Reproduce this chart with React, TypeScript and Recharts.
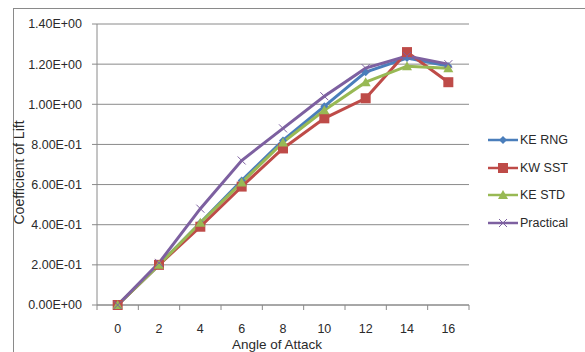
import { LineChart, Line, XAxis, YAxis, CartesianGrid, Legend } from "recharts";

const angles = [0, 2, 4, 6, 8, 10, 12, 14, 16];
const keRng = [0, 0.2, 0.41, 0.62, 0.82, 0.99, 1.16, 1.23, 1.19];
const kwSst = [0, 0.2, 0.39, 0.59, 0.78, 0.93, 1.03, 1.26, 1.11];
const keStd = [0, 0.2, 0.41, 0.61, 0.81, 0.97, 1.11, 1.19, 1.18];
const practical = [0, 0.21, 0.48, 0.72, 0.88, 1.04, 1.18, 1.24, 1.2];

const yTicks = [0, 0.2, 0.4, 0.6, 0.8, 1.0, 1.2, 1.4];
// even values get labels, odd ones are the category boundary tick marks
const xTicks = [-1, 0, 1, 2, 3, 4, 5, 6, 7, 8, 9, 10, 11, 12, 13, 14, 15, 16, 17];

const series = [
  { key: "keRng", name: "KE RNG", color: "#4a7ebb", shape: "diamond" },
  { key: "kwSst", name: "KW SST", color: "#be4b48", shape: "square" },
  { key: "keStd", name: "KE STD", color: "#98b954", shape: "triangle" },
  { key: "practical", name: "Practical", color: "#7d60a0", shape: "x" },
];

const data = angles.map((a, i) => ({
  angle: a,
  keRng: keRng[i],
  kwSst: kwSst[i],
  keStd: keStd[i],
  practical: practical[i],
}));

const FONT = "'Liberation Sans', Arial, sans-serif";
const GRID = "#8a8a8a";
const TEXT = "#2a2a2a";

function sci(v: number) {
  if (v === 0) return "0.00E+00";
  const e = Math.floor(Math.log10(Math.abs(v)) + 1e-9);
  const m = v / Math.pow(10, e);
  return m.toFixed(2) + "E" + (e < 0 ? "-" : "+") + String(Math.abs(e)).padStart(2, "0");
}

function Marker({ cx, cy, shape, color }: { cx: number; cy: number; shape: string; color: string }) {
  if (cx == null || cy == null) return null;
  if (shape === "diamond")
    return <polygon points={`${cx},${cy - 4} ${cx + 4},${cy} ${cx},${cy + 4} ${cx - 4},${cy}`} fill={color} />;
  if (shape === "square") return <rect x={cx - 5} y={cy - 5} width={10} height={10} fill={color} />;
  if (shape === "triangle")
    return <polygon points={`${cx},${cy - 5} ${cx + 5},${cy + 4} ${cx - 5},${cy + 4}`} fill={color} />;
  return (
    <g stroke={color} strokeWidth={1}>
      <line x1={cx - 4} y1={cy - 4} x2={cx + 4} y2={cy + 4} />
      <line x1={cx - 4} y1={cy + 4} x2={cx + 4} y2={cy - 4} />
    </g>
  );
}

function XTick(props: any) {
  const { x, y, payload } = props;
  const v = payload.value;
  const axisY = y - 6;
  if (v % 2 !== 0) {
    return <line x1={x} y1={axisY} x2={x} y2={axisY + 5} stroke={GRID} />;
  }
  return (
    <text x={x} y={axisY + 28} textAnchor="middle" fontSize={12.5} fontFamily={FONT} fill={TEXT}>
      {v}
    </text>
  );
}

function LegendBox() {
  return (
    <div style={{ fontFamily: FONT, fontSize: 12.5, color: TEXT }}>
      {series.map((s) => (
        <div key={s.key} style={{ display: "flex", alignItems: "center", height: 27.7 }}>
          <svg width={32} height={14}>
            <line x1={0} y1={7} x2={30} y2={7} stroke={s.color} strokeWidth={2.5} />
            <Marker cx={15} cy={7} shape={s.shape} color={s.color} />
          </svg>
          <span>{s.name}</span>
        </div>
      ))}
    </div>
  );
}

export default function App() {
  return (
    <div style={{ position: "fixed", left: 0, top: 0, width: 585, height: 352, overflow: "hidden", background: "#fff" }}>
      <div
        style={{
          position: "absolute",
          left: 13,
          top: 8,
          width: 700,
          height: 500,
          border: `1px solid ${GRID}`,
        }}
      />
      <LineChart width={585} height={352} data={data} margin={{ top: 24, right: 116, left: 13, bottom: 0 }}>
        <CartesianGrid vertical={false} stroke={GRID} strokeWidth={1} />
        <XAxis
          dataKey="angle"
          type="number"
          domain={[-1, 17]}
          ticks={xTicks}
          interval={0}
          tick={<XTick />}
          tickLine={false}
          tickSize={6}
          tickMargin={0}
          height={47}
          stroke={GRID}
          label={{ value: "Angle of Attack", position: "insideBottom", offset: 3, dx: -6, fontSize: 13.5, fontFamily: FONT, fill: TEXT }}
        />
        <YAxis
          domain={[0, 1.4]}
          ticks={yTicks}
          interval={0}
          width={84}
          tickSize={5}
          tickMargin={10}
          stroke={GRID}
          tickFormatter={sci}
          tick={{ fontSize: 12.5, fontFamily: FONT, fill: TEXT }}
          label={{ value: "Coefficient of Lift", angle: -90, position: "insideLeft", offset: 6, dy: 60, fontSize: 14, fontFamily: FONT, fill: TEXT }}
        />
        <Legend
          layout="vertical"
          align="center"
          verticalAlign="middle"
          content={<LegendBox />}
          wrapperStyle={{ left: 488, top: 126, width: 100 }}
        />
        {series.map((s) => (
          <Line
            key={s.key}
            dataKey={s.key}
            name={s.name}
            stroke={s.color}
            strokeWidth={3}
            isAnimationActive={false}
            dot={(p: any) => <Marker key={p.index} cx={p.cx} cy={p.cy} shape={s.shape} color={s.color} />}
            activeDot={false}
          />
        ))}
      </LineChart>
    </div>
  );
}
